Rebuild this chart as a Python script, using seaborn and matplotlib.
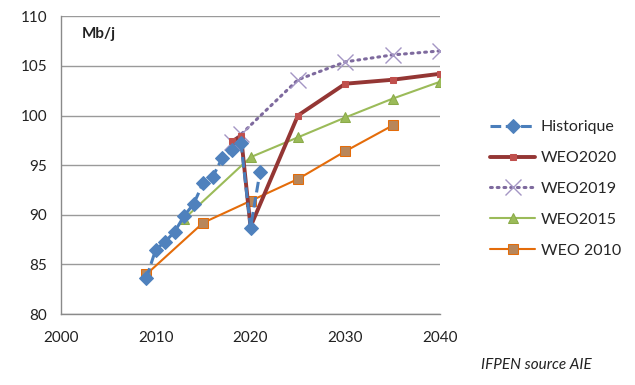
import matplotlib
matplotlib.use("Agg")
import matplotlib.pyplot as plt
import seaborn as sns

# -------------------------
# data
# -------------------------
hist_years = [2009, 2010, 2011, 2012, 2013, 2014, 2015, 2016, 2017, 2018, 2019, 2020, 2021]
hist_vals = [83.6, 86.5, 87.3, 88.3, 89.9, 91.1, 93.2, 93.8, 95.7, 96.5, 97.2, 88.7, 94.3]

weo2020_years = [2018, 2019, 2020, 2025, 2030, 2035, 2040]
weo2020_vals = [97.4, 97.9, 88.8, 100.0, 103.2, 103.6, 104.2]

weo2019_years = [2018, 2019, 2025, 2030, 2035, 2040]
weo2019_vals = [97.3, 98.1, 103.6, 105.4, 106.1, 106.5]

weo2015_years = [2013, 2020, 2025, 2030, 2035, 2040]
weo2015_vals = [89.6, 95.8, 97.8, 99.8, 101.7, 103.4]

weo2010_years = [2009, 2015, 2020, 2025, 2030, 2035]
weo2010_vals = [84.0, 89.2, 91.4, 93.6, 96.4, 99.0]

x_ticks = [2000, 2010, 2020, 2030, 2040]
y_ticks = [80, 85, 90, 95, 100, 105, 110]

sns.set_style("white")
plt.rcParams["font.family"] = ["Lato", "DejaVu Sans"]

fig = plt.figure(figsize=(6.35, 3.85), dpi=100)
ax = fig.add_axes([0.096, 0.184, 0.597, 0.774])

# grid first so the lines sit on top
for v in y_ticks:
    ax.axhline(v, color="#9a9a9a", lw=1.0, zorder=0)

sns.lineplot(x=weo2010_years, y=weo2010_vals, ax=ax, color="#E46C0A", lw=1.5,
             marker="s", markersize=7, markerfacecolor="#B8865A",
             markeredgecolor="#E46C0A", label="WEO 2010", zorder=3)
sns.lineplot(x=weo2015_years, y=weo2015_vals, ax=ax, color="#9BBB59", lw=1.5,
             marker="^", markersize=7, markerfacecolor="#9BBB59",
             markeredgecolor="#8AAA48", label="WEO2015", zorder=3)
sns.lineplot(x=weo2019_years, y=weo2019_vals, ax=ax, color="#7E6A9E", lw=2.2,
             linestyle=(0, (0.6, 1.6)), dash_capstyle="round",
             marker="x", markersize=11, markeredgewidth=1.0,
             markeredgecolor="#A496C4", label="WEO2019", zorder=4)
sns.lineplot(x=weo2020_years, y=weo2020_vals, ax=ax, color="#943634", lw=2.8,
             marker="s", markersize=4, markerfacecolor="#C0504D",
             markeredgecolor="#C0504D", label="WEO2020", zorder=5)
sns.lineplot(x=hist_years, y=hist_vals, ax=ax, color="#4A7EBB", lw=2.2,
             linestyle=(0, (3.5, 1.5)), marker="D", markersize=7,
             markerfacecolor="#4F81BD", markeredgecolor="#4F81BD",
             label="Historique", zorder=6)

ax.set_xlim(2000, 2040)
ax.set_ylim(80, 110)
ax.set_xticks(x_ticks)
ax.set_yticks(y_ticks)
ax.set_xlabel("")
ax.set_ylabel("")
ax.tick_params(axis="both", labelsize=11, colors="#222222", length=4,
               width=0.8, color="#8a8a8a", direction="out", pad=6)
ax.tick_params(axis="x", pad=8)
for side in ["top", "right"]:
    ax.spines[side].set_visible(False)
for side in ["left", "bottom"]:
    ax.spines[side].set_color("#8a8a8a")
    ax.spines[side].set_linewidth(1.0)

ax.text(0.055, 0.94, "Mb/j", transform=ax.transAxes, fontsize=11,
        fontweight="bold", color="#222222", va="center")

# legend in the reference's order
handles, labels = ax.get_legend_handles_labels()
order = ["Historique", "WEO2020", "WEO2019", "WEO2015", "WEO 2010"]
hmap = dict(zip(labels, handles))
fig.legend([hmap[k] for k in order], order, loc="upper left",
           bbox_to_anchor=(0.762, 0.705), frameon=False, fontsize=11.5,
           handlelength=2.8, labelspacing=1.05, handletextpad=0.35,
           borderaxespad=0)
ax.get_legend().remove()

fig.text(0.757, 0.052, "IFPEN source AIE", fontsize=11, style="italic",
         color="#222222", va="center")

fig.savefig("out.png", dpi=100)
